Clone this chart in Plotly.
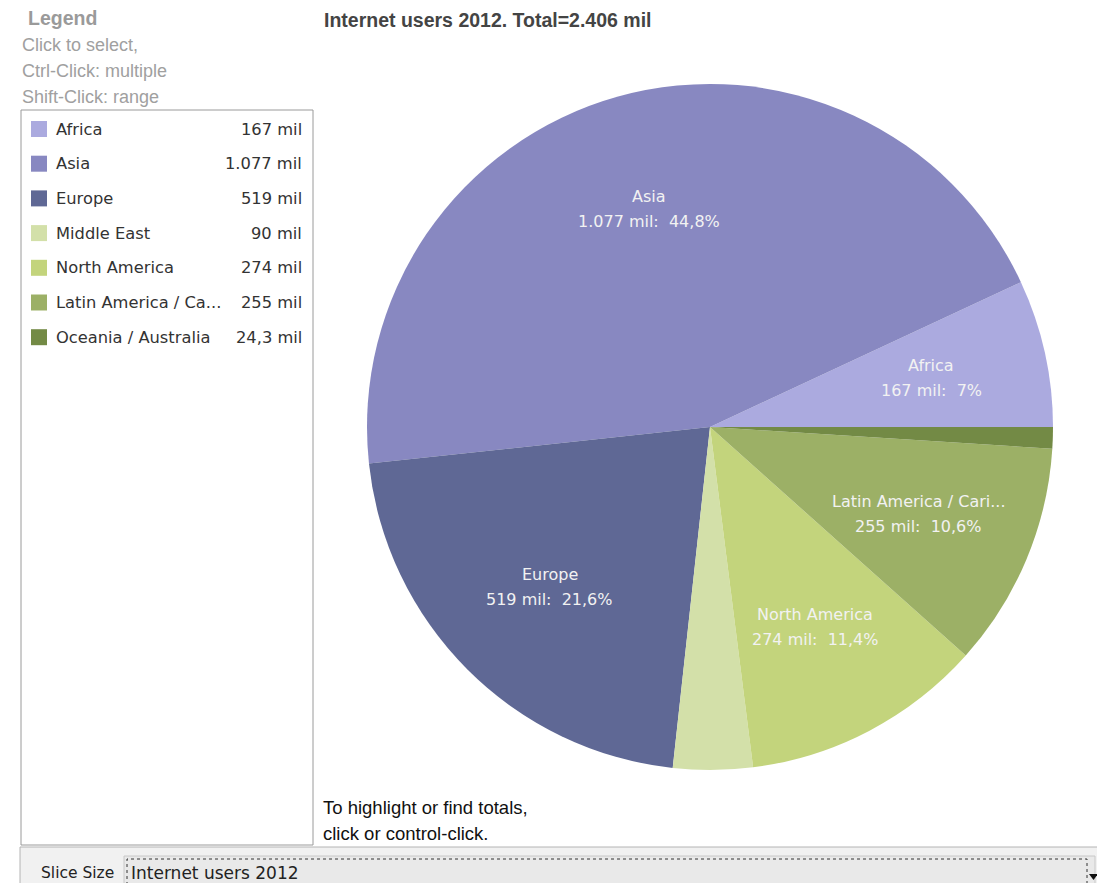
import math
import plotly.graph_objects as go

# ---- data ----
regions = ["Africa", "Asia", "Europe", "Middle East", "North America",
           "Latin America / Caribbean", "Oceania / Australia"]
users_mil = [167, 1077, 519, 90, 274, 255, 24.3]
colors = ["#abaadf", "#8888c1", "#5f6895", "#d3e0a9", "#c3d47c", "#9cb066", "#738a45"]
series_name = "Internet users 2012"
unit = "mil"

# page has an 8px body margin; figure fills the rest of the 1105x883 window
OFF = 8
W, H = 1105 - OFF, 883 - OFF


def fmt_num(v):
    if float(v).is_integer():
        return f"{int(v):,}".replace(",", ".")
    return f"{v:.1f}".replace(".", ",")


def fmt_pct(p):
    s = f"{p:.1f}" if p >= 10 else f"{p:.0f}"
    return s.replace(".", ",")


def trunc(s, n):
    return s if len(s) <= n + 1 else s[:n] + "..."


def px(x):
    return (x - OFF) / W


def py(y):
    return 1 - (y - OFF) / H


total = sum(users_mil)

# pie geometry (window pixels)
cx, cy, R = 710, 427, 343

fig = go.Figure()
fig.add_trace(go.Pie(
    labels=regions,
    values=users_mil,
    marker=dict(colors=colors, line=dict(width=0)),
    sort=False,
    direction="counterclockwise",
    rotation=90 - 360 * users_mil[0] / total,
    textinfo="none",
    hoverinfo="label+value+percent",
    showlegend=False,
    domain=dict(x=[px(cx - R), px(cx + R)], y=[py(cy + R), py(cy - R)]),
))

annotations = []
shapes = []

# slice labels computed from the data
LABEL_FONT = dict(family="DejaVu Sans, sans-serif", size=16, color="#f2f2f2")
cum = 0.0
for name, v in zip(regions, users_mil):
    frac = v / total
    mid = (cum + frac / 2) * 2 * math.pi
    cum += frac
    pct = frac * 100
    if pct < 5:
        continue
    lx = cx + 0.66 * R * math.cos(mid)
    ly = cy - 0.66 * R * math.sin(mid)
    lines = [trunc(name, 20), f"{fmt_num(v)} {unit}:\u00a0\u00a0{fmt_pct(pct)}%"]
    for k, line in enumerate(lines):
        annotations.append(dict(
            x=px(lx), y=py(ly - 12.5 + 25 * k), xref="paper", yref="paper", text=line,
            xanchor="center", yanchor="middle",
            showarrow=False, align="center", font=LABEL_FONT,
        ))

SANS = "Liberation Sans, Arial, sans-serif"

# title
annotations.append(dict(
    x=px(322), y=py(20), xref="paper", yref="paper", xanchor="left", yanchor="middle",
    text=f"<b>{series_name}. Total={fmt_num(round(total))} {unit}</b>", showarrow=False,
    font=dict(family=SANS, size=19.5, color="#444444"),
))

# legend header
annotations.append(dict(
    x=px(26), y=py(18), xref="paper", yref="paper", xanchor="left", yanchor="middle",
    text="<b>Legend</b>", showarrow=False,
    font=dict(family=SANS, size=19.5, color="#9a9a9a"),
))
for i, line in enumerate(["Click to select,", "Ctrl-Click: multiple", "Shift-Click: range"]):
    annotations.append(dict(
        x=px(20), y=py(45 + 26 * i), xref="paper", yref="paper", xanchor="left", yanchor="middle",
        text=line, showarrow=False,
        font=dict(family=SANS, size=18, color="#a0a0a0"),
    ))

# legend box
shapes.append(dict(type="rect", xref="paper", yref="paper",
                   x0=px(21), x1=px(313), y0=py(845), y1=py(110),
                   line=dict(color="#9a9a9a", width=1), fillcolor="white", layer="below"))

for i, (name, v, c) in enumerate(zip(regions, users_mil, colors)):
    yc = 129 + 34.7 * i
    shapes.append(dict(type="rect", xref="paper", yref="paper",
                       x0=px(31), x1=px(47), y0=py(yc + 8), y1=py(yc - 8),
                       line=dict(width=0), fillcolor=c))
    annotations.append(dict(
        x=px(54), y=py(yc), xref="paper", yref="paper", xanchor="left", yanchor="middle",
        text=trunc(name, 18), showarrow=False,
        font=dict(family="DejaVu Sans, sans-serif", size=16.3, color="#333333"),
    ))
    annotations.append(dict(
        x=px(304), y=py(yc), xref="paper", yref="paper", xanchor="right", yanchor="middle",
        text=f"{fmt_num(v)} {unit}", showarrow=False,
        font=dict(family="DejaVu Sans, sans-serif", size=16.3, color="#333333"),
    ))

# hint text
for i, line in enumerate(["To highlight or find totals,", "click or control-click."]):
    annotations.append(dict(
        x=px(321), y=py(807 + 26 * i), xref="paper", yref="paper", xanchor="left", yanchor="middle",
        text=line, showarrow=False,
        font=dict(family=SANS, size=18.5, color="#111111"),
    ))

# bottom control bar
shapes.append(dict(type="rect", xref="paper", yref="paper",
                   x0=px(20), x1=1.0, y0=py(890), y1=py(847),
                   line=dict(color="#b4b4b4", width=1), fillcolor="#f1f1f1", layer="below"))
shapes.append(dict(type="rect", xref="paper", yref="paper",
                   x0=px(124), x1=px(1095), y0=py(890), y1=py(856),
                   line=dict(color="#c8c8c8", width=1), fillcolor="#e9e9e9", layer="below"))
shapes.append(dict(type="rect", xref="paper", yref="paper",
                   x0=px(127), x1=px(1087), y0=py(890), y1=py(859),
                   line=dict(color="#333333", width=1, dash="dot"), fillcolor="rgba(0,0,0,0)"))
shapes.append(dict(type="path", xref="paper", yref="paper",
                   path=f"M {px(1089)},{py(874)} L {px(1098)},{py(874)} L {px(1093.5)},{py(880)} Z",
                   line=dict(width=0), fillcolor="#111111"))
annotations.append(dict(
    x=px(39), y=py(873), xref="paper", yref="paper", xanchor="left", yanchor="middle",
    text="Slice Size", showarrow=False,
    font=dict(family="DejaVu Sans, sans-serif", size=15.5, color="#222222"),
))
annotations.append(dict(
    x=px(129), y=py(873), xref="paper", yref="paper", xanchor="left", yanchor="middle",
    text=series_name, showarrow=False,
    font=dict(family="DejaVu Sans, sans-serif", size=17, color="#222222"),
))

fig.update_layout(
    width=W, height=H, autosize=False,
    margin=dict(l=0, r=0, t=0, b=0),
    paper_bgcolor="white", plot_bgcolor="white",
    annotations=annotations, shapes=shapes,
)

fig.write_html("out.html")
